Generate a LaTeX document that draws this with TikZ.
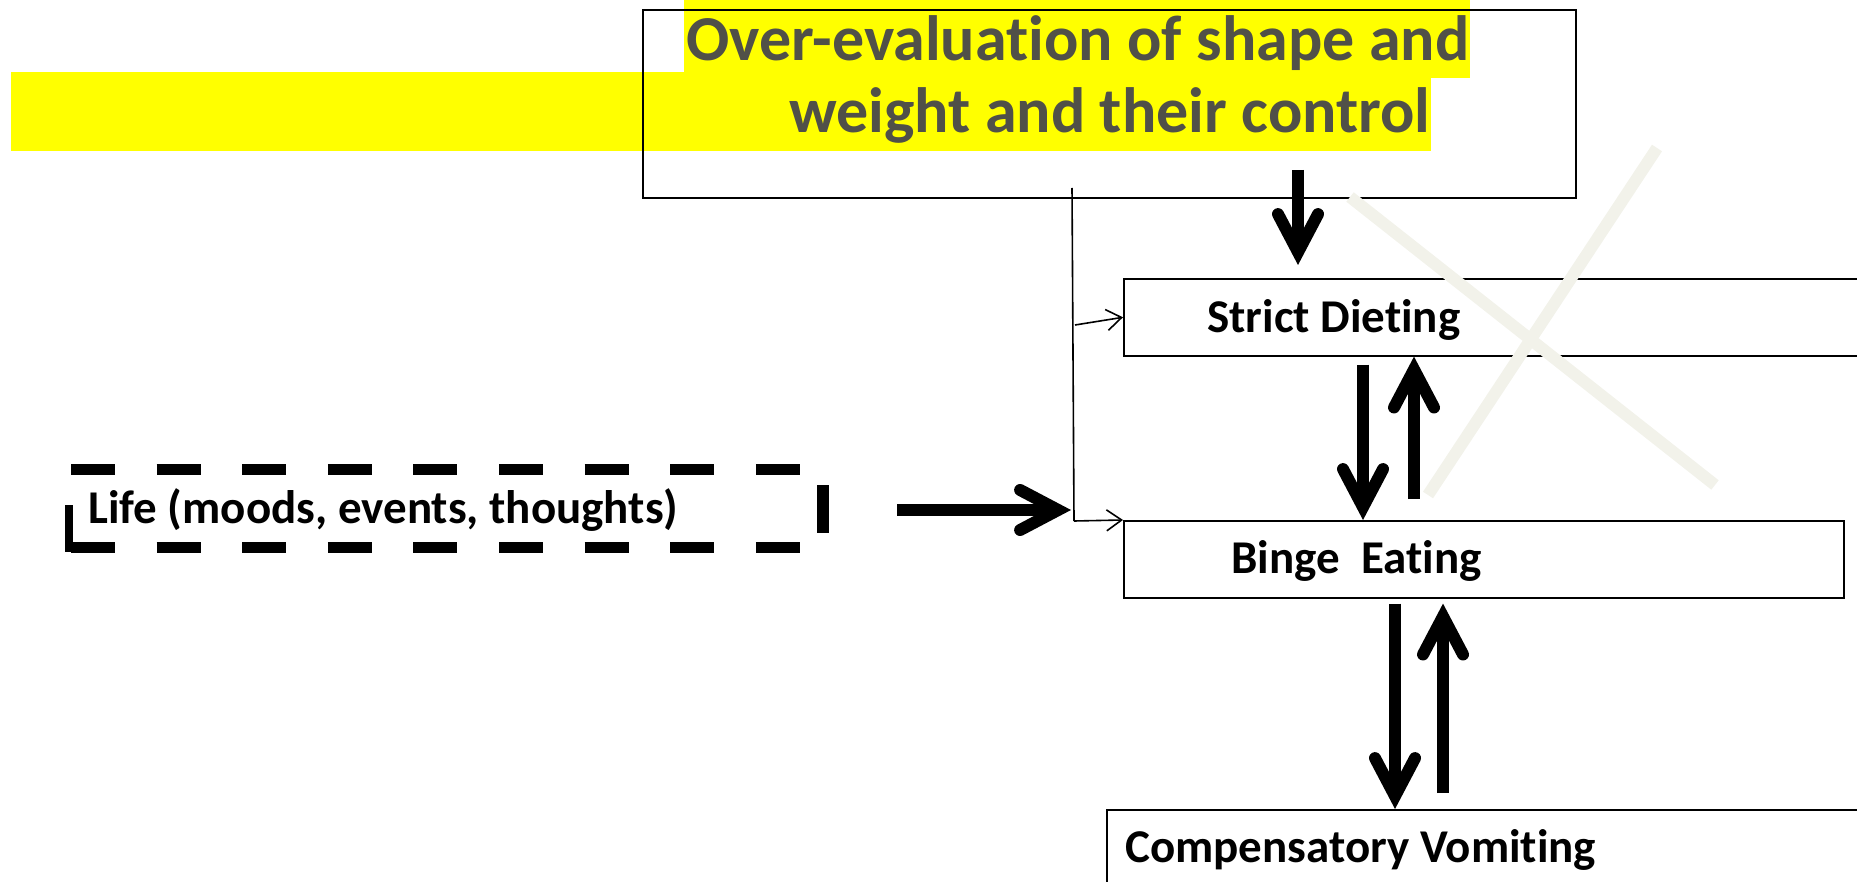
\documentclass[tikz,border=0pt]{standalone}
\usepackage{fontspec}
\setmainfont{Carlito}[RawFeature=-liga]
\usetikzlibrary{arrows.meta,calc}
\definecolor{hl}{HTML}{FFFF00}
\definecolor{titlegrey}{HTML}{505048}
\definecolor{crossgrey}{HTML}{F2F2EA}

\begin{document}
\begin{tikzpicture}[x=1pt,y=-1pt,
  box/.style={draw=black, line width=1.6pt, inner sep=0pt, anchor=north west},
  lbl/.style={font=\fontsize{47}{51}\selectfont\bfseries, inner sep=0pt, anchor=base west},
  ttl/.style={font=\fontsize{64}{70}\selectfont\bfseries, text=titlegrey, inner sep=0pt, anchor=base west},
  bigarrow/.style={line width=12pt, -{Straight Barb[length=38pt,width=40pt,line cap=round,line join=miter]}},
  thinarrow/.style={line width=1.6pt, -{Straight Barb[length=15pt,width=21pt]}},
  lifedash/.style={line width=11pt, dash pattern=on 44pt off 41.6pt},
  cross/.style={line width=12pt, draw=crossgrey}]

\useasboundingbox (0,0) rectangle (1857,882);

% highlighted title
\fill[hl] (684,0) rectangle (1470,78);
\fill[hl] (11,72) rectangle (1431,151);
\node[box, minimum width=933pt, minimum height=188pt] (over) at (642,9) {};
\node[ttl] (t1) at (686,61) {Over-evaluation of shape and};
\node[ttl] (t2) at (789,133) {weight and their control};

% cycle boxes
\node[box, minimum width=800pt, minimum height=77pt] (sd) at (1123,278) {};
\node[box, minimum width=720pt, minimum height=77pt] (be) at (1123,520) {};
\node[box, minimum width=800pt, minimum height=120pt] (cv) at (1106,809) {};
\node[lbl] (sdt) at (1207,333) {Strict Dieting};
\node[lbl] (bet) at (1231,573) {Binge~~Eating};
\node[lbl] (cvt) at (1125,862) {Compensatory Vomiting};

% life box with broken dashed outline
\node[inner sep=0pt, anchor=north west, minimum width=754pt, minimum height=79pt] (life) at (69,469) {};
\node[lbl] (lifet) at (88,523) {Life (moods, events, thoughts)};
\draw[lifedash] (71,469.5) -- (800,469.5);
\draw[lifedash] (71,547.5) -- (800,547.5);
\draw[line width=8pt] (69,505) -- (69,552);
\draw[line width=12pt] (823,485) -- (823,533);

% thin feed lines
\coordinate (fa) at (1072,188);
\coordinate (fb) at (1074,521);
\coordinate (fc) at (1075,325);
\draw[line width=1.6pt] (fa) -- (fb);
\draw[thinarrow] (fb) -- (be.north west);
\draw[thinarrow] (fc) -- (sd.west);

% thick arrows
\coordinate (xa) at (1298,170);
\coordinate (xb) at (1363,0);
\coordinate (xc) at (1414,0);
\coordinate (xd) at (1395,0);
\coordinate (xe) at (1443,0);
\draw[bigarrow, shorten >=13pt] (xa) -- (xa |- sd.north);
\draw[bigarrow, shorten <=8pt] (xb |- sd.south) -- (xb |- be.north);
\draw[bigarrow, shorten <=21pt] (xc |- be.north) -- (xc |- sd.south);
\draw[bigarrow, shorten <=5pt] (xd |- be.south) -- (xd |- cv.north);
\draw[bigarrow, shorten <=16pt, shorten >=5pt] (xe |- cv.north) -- (xe |- be.south);
\coordinate (lj) at (1071,510);
\draw[bigarrow, shorten <=74pt] (life.east |- lj) -- (lj);

% faint cross
\draw[cross] (1350,197) -- (1715,485);
\draw[cross] (1657,148) -- (1428,495);
\end{tikzpicture}
\end{document}
